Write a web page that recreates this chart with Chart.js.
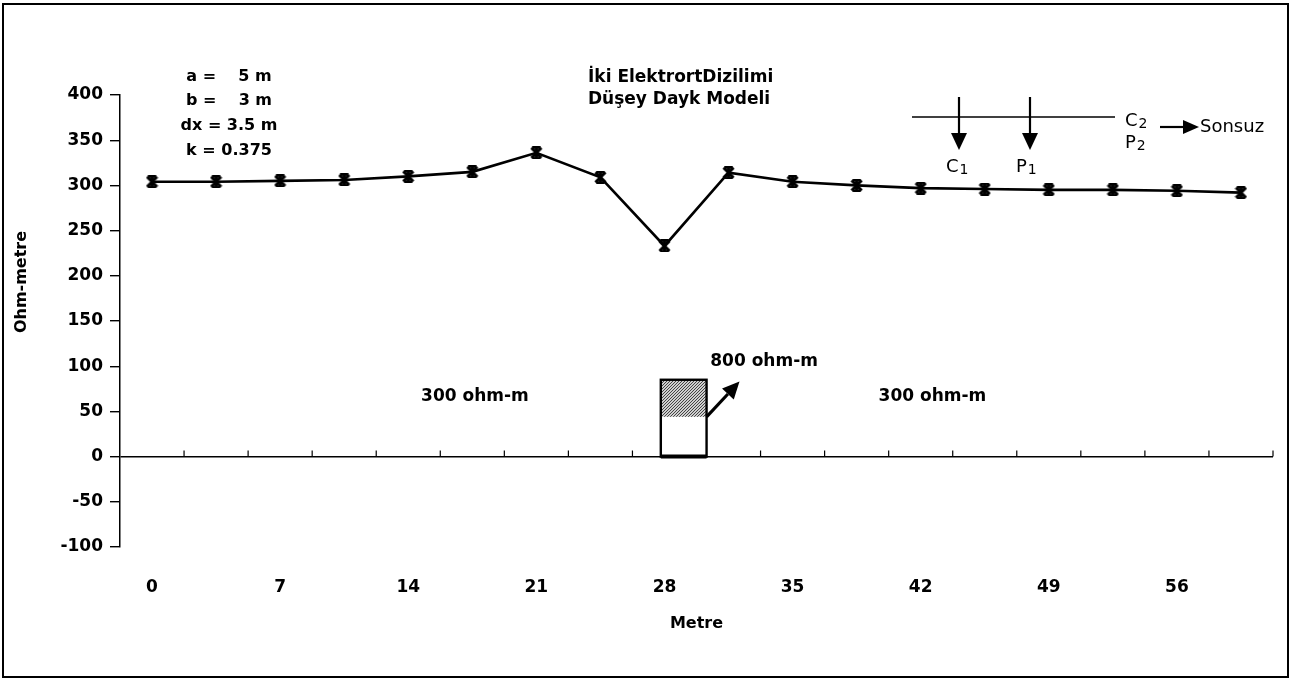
<!DOCTYPE html>
<html><head><meta charset="utf-8">
<script src="https://cdn.jsdelivr.net/npm/chart.js@4.4.1/dist/chart.umd.min.js"></script>
<style>html,body{margin:0;padding:0;background:#fff;}#wrap{width:1304px;height:681px;position:relative;}</style>
</head><body><div id="wrap"><canvas id="c" width="1304" height="681"></canvas></div>
<script>
// ---- data ----
const distances = [0, 3.5, 7, 10.5, 14, 17.5, 21, 24.5, 28, 31.5, 35, 38.5, 42, 45.5, 49, 52.5, 56, 59.5];
const resistivity = [304, 304, 305, 306, 310, 315, 336, 309, 233, 314, 304, 300, 297, 296, 295, 295, 294, 292];
const xTickValues = [0, 7, 14, 21, 28, 35, 42, 49, 56];
const yTickValues = [-100, -50, 0, 50, 100, 150, 200, 250, 300, 350, 400];
const paramLines = ['a =    5 m', 'b =    3 m', 'dx = 3.5 m', 'k = 0.375'];
const titleLines = ['İki ElektrortDizilimi', 'Düşey Dayk Modeli'];
const xTitle = 'Metre';
const yTitle = 'Ohm-metre';
const hostLabel = '300 ohm-m';
const dykeLabel = '800 ohm-m';
const electrodeNames = ['C', 'P', 'C', 'P'];
const electrodeIdx = ['1', '1', '2', '2'];
const infinityLabel = 'Sonsuz';
// dyke model (data units)
const dykeLeft = 27.8, dykeRight = 30.3, dykeTop = 85, dykeShadeBottom = 44;

Chart.defaults.font.family = "'DejaVu Sans', sans-serif";
Chart.defaults.color = '#000';

function makeStar(size, lw) {
  const c = document.createElement('canvas'); c.width = c.height = size;
  const g = c.getContext('2d'); g.strokeStyle = '#000'; g.lineWidth = lw;
  const m = lw / 2, e = size - m;
  g.beginPath();
  g.moveTo(m, m); g.lineTo(e, e);
  g.moveTo(e, m); g.lineTo(m, e);
  g.moveTo(size / 2, 0); g.lineTo(size / 2, size);
  g.moveTo(m + 1, 1); g.lineTo(e - 1, 1);
  g.moveTo(m + 1, size - 1); g.lineTo(e - 1, size - 1);
  g.stroke();
  return c;
}
const star = makeStar(13, 2.8);

const pc = document.createElement('canvas'); pc.width = pc.height = 3;
const pg = pc.getContext('2d');
pg.fillStyle = '#cfcfcf'; pg.fillRect(0, 0, 3, 3);
pg.fillStyle = '#444'; pg.fillRect(0, 0, 1, 1); pg.fillRect(2, 1, 1, 1); pg.fillRect(1, 2, 1, 1);

function arrow(ctx, x1, y1, x2, y2, head, hw, lw) {
  const a = Math.atan2(y2 - y1, x2 - x1);
  const bx = x2 - head * Math.cos(a), by = y2 - head * Math.sin(a);
  ctx.lineWidth = lw;
  ctx.beginPath(); ctx.moveTo(x1, y1); ctx.lineTo(bx, by); ctx.stroke();
  ctx.beginPath(); ctx.moveTo(x2, y2);
  ctx.lineTo(bx + hw * Math.sin(a), by - hw * Math.cos(a));
  ctx.lineTo(bx - hw * Math.sin(a), by + hw * Math.cos(a));
  ctx.closePath(); ctx.fill();
}
function subLabel(ctx, base, idx, x, y) {
  ctx.font = "18px 'DejaVu Sans'";
  ctx.textAlign = 'left';
  ctx.fillText(base, x, y);
  const w = ctx.measureText(base).width;
  ctx.font = "14px 'DejaVu Sans'";
  ctx.fillText(idx, x + w + 1, y + 3);
}

const deco = {
  id: 'deco',
  beforeDatasetsDraw(chart) {
    const { ctx, scales: { x, y } } = chart;
    ctx.save();
    const y0 = y.getPixelForValue(0);
    ctx.strokeStyle = '#000'; ctx.lineWidth = 1.2;
    const bounds = [];
    for (let i = 0; i < distances.length - 1; i++) bounds.push((distances[i] + distances[i + 1]) / 2);
    bounds.push(x.max);
    ctx.beginPath();
    bounds.forEach(v => { const px = x.getPixelForValue(v); ctx.moveTo(px, y0); ctx.lineTo(px, y0 - 6); });
    ctx.stroke();
    const L = x.getPixelForValue(dykeLeft), R = x.getPixelForValue(dykeRight);
    const T = y.getPixelForValue(dykeTop), S = y.getPixelForValue(dykeShadeBottom);
    ctx.fillStyle = '#fff'; ctx.fillRect(L, T, R - L, y0 - T);
    ctx.fillStyle = ctx.createPattern(pc, 'repeat'); ctx.fillRect(L, T, R - L, S - T);
    ctx.strokeStyle = '#000'; ctx.lineWidth = 2.4; ctx.strokeRect(L, T, R - L, y0 - T);
    ctx.lineWidth = 4; ctx.beginPath(); ctx.moveTo(L, y0); ctx.lineTo(R, y0); ctx.stroke();
    ctx.fillStyle = '#000';
    arrow(ctx, R, S, x.getPixelForValue(32.1), y.getPixelForValue(83), 17, 8, 3.2);
    ctx.font = "bold 17px 'DejaVu Sans'"; ctx.textBaseline = 'middle'; ctx.textAlign = 'left';
    ctx.fillText(hostLabel, x.getPixelForValue(14.7), y.getPixelForValue(66));
    ctx.fillText(hostLabel, x.getPixelForValue(39.7), y.getPixelForValue(66));
    ctx.fillText(dykeLabel, x.getPixelForValue(30.5), y.getPixelForValue(105));
    ctx.restore();
  },
  afterDraw(chart) {
    const { ctx } = chart;
    ctx.save();
    ctx.fillStyle = '#000'; ctx.strokeStyle = '#000';
    ctx.textBaseline = 'middle';
    ctx.font = "bold 16px 'DejaVu Sans'"; ctx.textAlign = 'center';
    const py = [77, 101, 126, 151];
    paramLines.forEach((t, i) => ctx.fillText(t, 229, py[i]));
    ctx.textAlign = 'left'; ctx.font = "bold 17px 'DejaVu Sans'";
    ctx.fillText(titleLines[0], 588, 78);
    ctx.fillText(titleLines[1], 588, 100);
    ctx.save(); ctx.translate(22, 282); ctx.rotate(-Math.PI / 2);
    ctx.textAlign = 'center'; ctx.font = "bold 16px 'DejaVu Sans'";
    ctx.fillText(yTitle, 0, 0); ctx.restore();
    // electrode diagram
    ctx.lineWidth = 1.6;
    ctx.beginPath(); ctx.moveTo(912, 117); ctx.lineTo(1115, 117); ctx.stroke();
    arrow(ctx, 959, 97, 959, 150, 17, 8, 2.2);
    arrow(ctx, 1030, 97, 1030, 150, 17, 8, 2.2);
    arrow(ctx, 1160, 127, 1199, 127, 16, 7, 2.2);
    subLabel(ctx, electrodeNames[0], electrodeIdx[0], 946, 167);
    subLabel(ctx, electrodeNames[1], electrodeIdx[1], 1016, 167);
    subLabel(ctx, electrodeNames[2], electrodeIdx[2], 1125, 121);
    subLabel(ctx, electrodeNames[3], electrodeIdx[3], 1125, 143);
    ctx.font = "18px 'DejaVu Sans'"; ctx.textAlign = 'left';
    ctx.fillText(infinityLabel, 1200, 127);
    // frame
    ctx.lineWidth = 2; ctx.strokeRect(3, 4, 1285, 673);
    ctx.restore();
  }
};

new Chart(document.getElementById('c'), {
  type: 'line',
  data: {
    datasets: [{
      data: distances.map((d, i) => ({ x: d, y: resistivity[i] })),
      borderColor: '#000', borderWidth: 2.6, tension: 0,
      pointStyle: star, pointRadius: 6, pointHoverRadius: 6,
      backgroundColor: '#000'
    }]
  },
  options: {
    responsive: false, animation: false, devicePixelRatio: 1,
    layout: { padding: { top: 95, right: 31, left: 0, bottom: 0 } },
    plugins: { legend: { display: false }, tooltip: { enabled: false } },
    scales: {
      x: {
        type: 'linear', position: 'bottom', min: -1.75, max: 61.25,
        afterBuildTicks: s => { s.ticks = xTickValues.map(v => ({ value: v })); },
        afterFit: s => { s.height = 134; },
        grid: { display: false }, border: { display: false },
        ticks: { font: { size: 17, weight: 'bold' }, color: '#000', padding: 22, maxRotation: 0 },
        title: { display: true, text: xTitle, font: { size: 16, weight: 'bold' }, color: '#000', padding: { top: 0, bottom: 48 } }
      },
      y: {
        min: -100, max: 400,
        afterBuildTicks: s => { s.ticks = yTickValues.map(v => ({ value: v })); },
        afterFit: s => { s.width = 120; },
        grid: {
          color: c => (c.tick && c.tick.value === 0) ? '#000' : 'rgba(0,0,0,0)',
          lineWidth: 1.4, tickColor: '#000', tickLength: 10, drawTicks: true
        },
        border: { display: true, color: '#000', width: 1.5 },
        ticks: { font: { size: 17, weight: 'bold' }, color: '#000', padding: 7 }
      }
    }
  },
  plugins: [deco]
});
</script></body></html>
